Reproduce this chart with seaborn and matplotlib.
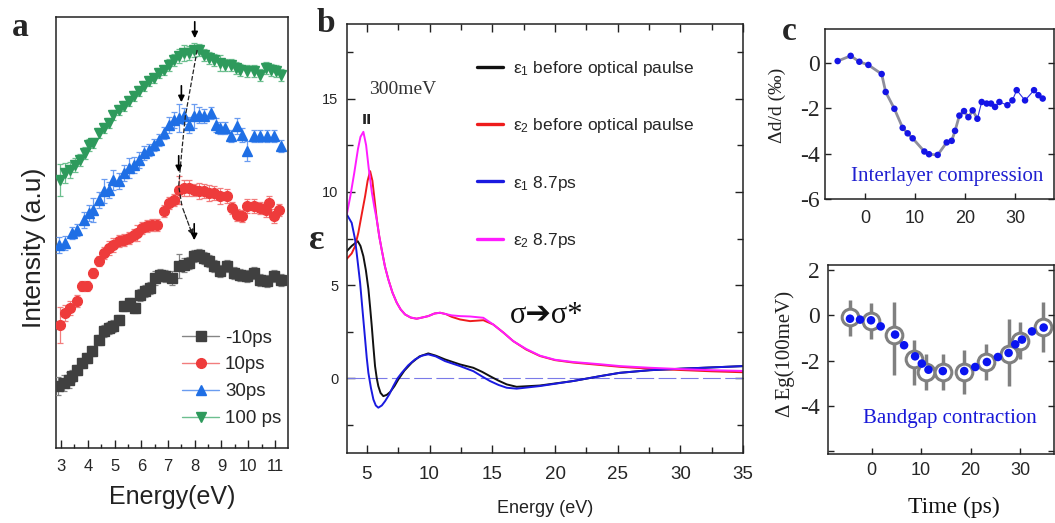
import matplotlib
matplotlib.use("Agg")
import matplotlib.pyplot as plt
import seaborn as sns
from matplotlib import font_manager
from matplotlib.lines import Line2D
from matplotlib.ticker import MultipleLocator

# ---- panel a: spectra at four delays (a.u., curves stacked) ----
a_labels = ["-10ps", "10ps", "30ps", "100 ps"]

a_E_m10 = [2.9, 3.09, 3.28, 3.4, 3.59, 3.78, 3.96, 4.15, 4.4, 4.59, 4.78, 4.96, 5.15, 5.34, 5.59, 5.78,
           5.96, 6.15, 6.34, 6.53, 6.71, 6.9, 7.15, 7.4, 7.59, 7.78, 7.96, 8.15, 8.34, 8.53, 8.71, 8.96,
           9.21, 9.46, 9.71, 9.96, 10.21, 10.46, 10.71, 10.96, 11.21]
a_I_m10 = [62, 65, 68, 72, 78, 85, 90, 97, 108, 117, 120, 122, 128, 142, 145, 140, 153, 157, 160, 170,
           173, 172, 170, 182, 183, 185, 192, 193, 190, 187, 182, 177, 182, 175, 173, 172, 175, 168, 167,
           172, 168]
a_err_m10 = [9, 8, 8, 6, 5, 5, 5, 5, 5, 6, 6, 6, 5, 5, 5, 5, 6, 6, 6, 7, 6, 6, 7, 12, 7, 6, 6, 6, 6, 6,
             6, 6, 6, 6, 6, 6, 6, 6, 6, 6, 6]

a_E_10 = [2.96, 3.15, 3.34, 3.59, 3.78, 3.96, 4.21, 4.4, 4.59, 4.78, 4.96, 5.15, 5.34, 5.53, 5.71, 5.84,
          6.03, 6.21, 6.4, 6.59, 6.84, 7.03, 7.21, 7.4, 7.59, 7.78, 7.96, 8.15, 8.34, 8.53, 8.71, 8.96,
          9.21, 9.4, 9.59, 9.78, 9.96, 10.21, 10.46, 10.65, 10.78, 10.96, 11.15]
a_I_10 = [123, 135, 140, 147, 162, 162, 175, 187, 195, 200, 203, 207, 208, 210, 213, 215, 220, 222, 223,
          223, 237, 245, 248, 258, 260, 260, 258, 257, 257, 255, 255, 252, 252, 240, 233, 232, 242, 242,
          240, 238, 245, 232, 238]
a_err_10 = [18, 8, 7, 6, 5, 5, 5, 5, 6, 7, 7, 6, 6, 6, 6, 8, 6, 6, 6, 6, 6, 6, 6, 14, 8, 8, 6, 8, 7, 8,
            7, 8, 7, 6, 6, 6, 7, 7, 6, 7, 7, 7, 6]

a_E_30 = [2.94, 3.15, 3.4, 3.59, 3.84, 4.03, 4.21, 4.4, 4.59, 4.78, 4.96, 5.15, 5.34, 5.53, 5.71, 5.9,
          6.09, 6.28, 6.46, 6.65, 6.84, 7.03, 7.21, 7.4, 7.59, 7.78, 7.96, 8.15, 8.34, 8.59, 8.78, 8.96,
          9.15, 9.34, 9.59, 9.78, 9.96, 10.21, 10.46, 10.71, 10.96, 11.21]
a_I_30 = [203, 205, 215, 218, 228, 235, 238, 248, 257, 258, 268, 267, 275, 280, 283, 288, 295, 298, 303,
          308, 315, 323, 328, 330, 332, 323, 332, 333, 332, 335, 323, 320, 320, 312, 322, 313, 297, 312,
          312, 312, 312, 302]
a_err_30 = [8, 7, 6, 6, 8, 8, 12, 8, 12, 8, 10, 8, 8, 10, 8, 8, 7, 6, 6, 6, 6, 8, 8, 14, 8, 8, 12, 8, 7,
            6, 7, 6, 6, 6, 8, 7, 10, 6, 6, 6, 6, 6]

a_E_100 = [2.96, 3.15, 3.34, 3.53, 3.71, 3.9, 4.03, 4.21, 4.4, 4.59, 4.78, 4.96, 5.15, 5.34, 5.53, 5.71,
           5.9, 6.09, 6.28, 6.46, 6.65, 6.84, 7.03, 7.21, 7.4, 7.59, 7.78, 7.96, 8.15, 8.34, 8.53, 8.71,
           8.96, 9.15, 9.34, 9.53, 9.71, 9.96, 10.21, 10.46, 10.65, 10.84, 11.03, 11.21]
a_I_100 = [268, 275, 278, 283, 288, 295, 303, 305, 315, 320, 325, 333, 338, 342, 347, 352, 357, 362, 367,
           370, 375, 378, 383, 388, 392, 395, 395, 398, 398, 393, 390, 388, 385, 383, 383, 380, 378, 377,
           377, 373, 380, 378, 377, 373]
a_err_100 = [16, 10, 8, 7, 6, 6, 6, 5, 5, 5, 5, 5, 5, 5, 5, 5, 5, 5, 5, 5, 5, 5, 6, 6, 7, 8, 7, 7, 6, 6,
             6, 6, 8, 6, 6, 6, 6, 6, 6, 6, 6, 6, 6, 6]

# peak arrows (energy, arrow tip) and the dashed guide through the peaks
a_arrow_E = [7.98, 7.4, 7.5, 8.0]
a_arrow_tip = [205, 273, 343, 407]
a_shift_E = [8.09, 7.65, 7.52, 7.4, 7.52, 7.96]
a_shift_I = [398, 332, 298, 262, 242, 210]

# ---- panel b: dielectric function ----
b_e1_before_E = [3.41, 3.8, 4.28, 4.5, 4.73, 4.93, 5.13, 5.27, 5.4, 5.53, 5.66, 5.8, 5.92, 6.1, 6.32, 6.6,
                 6.86, 7.2, 7.52, 8.0, 8.58, 9.2, 9.9, 10.5, 11.23, 12.43, 13.49, 14.2, 14.82, 15.5, 16.15,
                 16.94, 18.8, 21.45, 23.58, 25.17, 27.56, 30.0, 35.0]
b_e1_before = [6.82, 7.1, 7.36, 7.1, 6.55, 5.8, 4.8, 3.8, 2.8, 1.7, 0.66, 0.0, -0.41, -0.78, -0.95, -0.88,
               -0.73, -0.42, -0.05, 0.42, 0.84, 1.18, 1.34, 1.22, 1.02, 0.75, 0.57, 0.35, 0.12, -0.12, -0.32,
               -0.45, -0.38, -0.14, 0.12, 0.3, 0.44, 0.52, 0.66]

b_e2_before_E = [3.41, 3.8, 4.07, 4.33, 4.6, 4.87, 5.07, 5.27, 5.45, 5.62, 5.8, 6.0, 6.19, 6.45, 6.72, 7.05,
                 7.39, 7.7, 8.05, 8.5, 8.98, 9.45, 9.9, 10.4, 10.84, 11.3, 11.77, 12.43, 13.23, 14.29, 15.08,
                 15.9, 16.67, 17.7, 18.8, 20.0, 21.45, 23.6, 25.2, 27.6, 30.0, 32.5, 35.0]
b_e2_before = [6.41, 6.7, 7.09, 7.81, 8.8, 9.77, 10.6, 11.11, 10.6, 9.6, 8.52, 7.6, 6.91, 6.0, 5.31, 4.6,
               4.06, 3.7, 3.43, 3.26, 3.2, 3.27, 3.34, 3.48, 3.52, 3.45, 3.3, 3.16, 3.07, 3.12, 2.89, 2.45,
               2.0, 1.55, 1.2, 0.98, 0.85, 0.72, 0.62, 0.52, 0.45, 0.38, 0.33]

b_e1_87_E = [3.41, 3.8, 4.07, 4.27, 4.47, 4.67, 4.87, 5.0, 5.13, 5.33, 5.53, 5.72, 5.92, 6.2, 6.46, 6.8,
             7.12, 7.45, 7.79, 8.3, 8.85, 9.4, 9.9, 10.5, 11.23, 12.43, 13.49, 14.2, 14.82, 15.5, 16.15,
             16.94, 18.8, 21.45, 23.58, 25.17, 27.56, 30.0, 35.0]
b_e1_87 = [8.79, 8.34, 7.45, 6.3, 5.13, 3.6, 2.09, 1.1, 0.3, -0.5, -1.13, -1.45, -1.57, -1.45, -1.22, -0.85,
           -0.41, 0.0, 0.3, 0.7, 1.02, 1.22, 1.29, 1.18, 0.93, 0.66, 0.39, 0.1, -0.14, -0.35, -0.5, -0.55,
           -0.41, -0.14, 0.12, 0.3, 0.44, 0.52, 0.66]

b_e2_87_E = [3.41, 3.7, 4.0, 4.3, 4.5, 4.73, 4.95, 5.15, 5.4, 5.6, 5.8, 6.0, 6.19, 6.45, 6.72, 7.05, 7.39,
             7.7, 8.05, 8.5, 8.98, 9.45, 9.9, 10.4, 10.84, 11.3, 11.77, 12.43, 13.23, 14.29, 15.08, 15.9,
             16.67, 17.7, 18.8, 20.0, 21.45, 23.6, 25.2, 27.6, 30.0, 32.5, 35.0]
b_e2_87 = [8.79, 9.8, 11.0, 12.3, 12.95, 13.22, 12.5, 11.3, 10.0, 9.2, 8.5, 7.6, 6.9, 6.0, 5.3, 4.6, 4.06,
           3.7, 3.43, 3.27, 3.2, 3.27, 3.34, 3.48, 3.52, 3.45, 3.38, 3.34, 3.32, 3.25, 2.89, 2.45, 2.0,
           1.58, 1.22, 1.0, 0.88, 0.76, 0.66, 0.57, 0.5, 0.44, 0.4]

b_labels = ["ε$_1$ before optical paulse", "ε$_2$ before optical paulse", "ε$_1$ 8.7ps", "ε$_2$ 8.7ps"]

# ---- panel c: interlayer spacing and band gap vs time ----
c_t_d = [-5.47, -2.87, -1.13, 0.67, 3.33, 4.13, 5.87, 7.53, 8.53, 9.53, 11.87, 12.8, 14.53, 16.33, 17.33,
         18.0, 18.87, 19.8, 20.67, 21.53, 22.47, 23.33, 24.33, 25.2, 26.0, 26.87, 28.47, 29.47, 30.33, 32.0,
         33.8, 34.67, 35.53]
c_dd = [0.07, 0.3, 0.04, -0.1, -0.5, -1.29, -2.03, -2.87, -3.11, -3.33, -3.91, -4.03, -4.06, -3.51, -3.44,
        -3.0, -2.33, -2.13, -2.4, -2.1, -2.47, -1.73, -1.8, -1.8, -1.95, -1.73, -1.87, -1.66, -1.21, -1.66,
        -1.21, -1.43, -1.58]

c_t_eg = [-4.39, -2.36, -0.14, 1.82, 4.73, 6.55, 8.78, 10.14, 11.49, 14.39, 18.72, 20.95, 23.31, 25.54,
          27.7, 29.05, 30.41, 32.43, 34.8]
c_eg = [-0.15, -0.19, -0.22, -0.49, -0.85, -1.32, -1.81, -2.13, -2.4, -2.46, -2.46, -2.28, -2.06, -1.84,
        -1.66, -1.28, -1.07, -0.71, -0.54]

c_t_ring = [-4.39, -0.14, 4.53, 8.58, 10.95, 14.39, 18.72, 23.18, 27.7, 30.07, 34.66]
c_eg_ring = [-0.07, -0.25, -0.88, -1.91, -2.49, -2.49, -2.49, -2.06, -1.69, -1.13, -0.51]
c_eg_hi = [0.66, 0.56, 0.59, -1.1, -1.69, -1.69, -1.51, -1.28, -0.15, -0.29, 0.59]
c_eg_lo = [-0.93, -1.03, -2.65, -3.09, -3.28, -3.28, -3.49, -2.84, -3.13, -1.91, -1.62]

# ---- style ----
sns.set_theme(style="ticks")
names = {f.name for f in font_manager.fontManager.ttflist}
NARROW = "Liberation Sans Narrow" if "Liberation Sans Narrow" in names else "Liberation Sans"
SANS = [NARROW, "DejaVu Sans"]
SERIF = ["Liberation Serif", "DejaVu Serif", "DejaVu Sans"]
plt.rcParams["font.family"] = SANS
plt.rcParams["axes.unicode_minus"] = False
plt.rcParams["mathtext.fontset"] = "custom"
plt.rcParams["mathtext.rm"] = NARROW
plt.rcParams["mathtext.it"] = NARROW

fig = plt.figure(figsize=(10.55, 5.23), dpi=100)
ax_a = fig.add_axes([0.0531, 0.1434, 0.2199, 0.8241])
ax_b = fig.add_axes([0.3286, 0.1338, 0.3759, 0.8203])
ax_c1 = fig.add_axes([0.782, 0.6195, 0.2171, 0.325])
ax_c2 = fig.add_axes([0.7848, 0.1319, 0.2143, 0.3614])

for ax in (ax_a, ax_b, ax_c1, ax_c2):
    for sp in ax.spines.values():
        sp.set_visible(True)
        sp.set_linewidth(1.1)
        sp.set_color("#222222")
    ax.grid(False)

# ---- panel a ----
a_series = [
    (a_E_m10, a_I_m10, a_err_m10, "s", 6.5, "#404040", "#858585"),
    (a_E_10, a_I_10, a_err_10, "o", 7.0, "#ee3b3b", "#f27d7d"),
    (a_E_30, a_I_30, a_err_30, "^", 7.5, "#1f6fe5", "#6a9cf0"),
    (a_E_100, a_I_100, a_err_100, "v", 7.5, "#2e9a5c", "#6cbf8f"),
]
handles = []
for E, I, err, mk, ms, col, ecol in a_series:
    ax_a.errorbar(E, I, yerr=err, fmt=mk, ms=ms, color=col, mec=col, ecolor=ecol,
                  elinewidth=0.9, capsize=2.5, capthick=0.9, zorder=3)
    handles.append(Line2D([], [], color=ecol, marker=mk, mfc=col, mec=col, ms=ms, lw=1.0))

for e, tip in zip(a_arrow_E, a_arrow_tip):
    ax_a.annotate("", xy=(e, tip), xytext=(e, tip + 22),
                  arrowprops=dict(arrowstyle="-|>", color="black", lw=1.2, mutation_scale=9), zorder=5)
ax_a.plot(a_shift_E[:-1], a_shift_I[:-1], ls="--", color="#222222", lw=0.9, zorder=4)
ax_a.annotate("", xy=(a_shift_E[-1], a_shift_I[-1]), xytext=(a_shift_E[-2], a_shift_I[-2]),
              arrowprops=dict(arrowstyle="-|>", color="#222222", lw=0.9, ls="--", mutation_scale=8), zorder=4)

ax_a.set_xlim(2.81, 11.49)
ax_a.set_ylim(0, 431)
ax_a.set_yticks([])
ax_a.set_xticks(range(3, 12))
ax_a.set_xticklabels([str(v) for v in range(3, 12)], fontsize=12, family=SANS)
ax_a.xaxis.set_minor_locator(MultipleLocator(0.5))
ax_a.tick_params(axis="x", which="major", direction="in", length=6, width=1.0, pad=8, color="#222222")
ax_a.tick_params(axis="x", which="minor", direction="in", length=3, width=1.0, color="#222222")
ax_a.set_xlabel("Energy(eV)", fontsize=18, family=SANS, color="#222222")
ax_a.xaxis.set_label_coords(0.5, -0.085)
ax_a.set_ylabel("Intensity (a.u)", fontsize=19, family=SANS, color="#222222")
ax_a.yaxis.set_label_coords(-0.045, 0.464)
ax_a.legend(handles, a_labels, loc="upper left", bbox_to_anchor=(0.543, 0.275), frameon=False,
            prop={"family": SANS, "size": 13.5}, handlelength=2.0, handletextpad=0.3,
            labelspacing=0.52, borderpad=0, borderaxespad=0)

# ---- panel b ----
b_curves = [
    (b_e1_before_E, b_e1_before, "#111111"),
    (b_e2_before_E, b_e2_before, "#ee1c1c"),
    (b_e1_87_E, b_e1_87, "#1a1ae0"),
    (b_e2_87_E, b_e2_87, "#ff1cff"),
]
ax_b.axhline(0, color="#7a7ae8", lw=0.8, dashes=(16, 4), zorder=1)
for (E, eps, col), lbl in zip(b_curves, b_labels):
    sns.lineplot(x=E, y=eps, color=col, lw=1.4, sort=False, ax=ax_b, label=lbl)

ax_b.set_xlim(3.4, 35)
ax_b.set_ylim(-4, 19)
ax_b.set_xticks([5, 10, 15, 20, 25, 30, 35])
ax_b.set_xticklabels(["5", "10", "15", "20", "25", "30", "35"], fontsize=13.5, family=SANS)
ax_b.set_yticks([0, 5, 10, 15])
ax_b.set_yticklabels(["0", "5", "10", "15"], fontsize=10.5, family=SANS)
ax_b.xaxis.set_minor_locator(MultipleLocator(2.5))
ax_b.yaxis.set_minor_locator(MultipleLocator(2.5))
ax_b.tick_params(which="both", direction="in", top=True, right=True, color="#222222", width=1.0)
ax_b.tick_params(which="major", length=6)
ax_b.tick_params(which="minor", length=4)
ax_b.tick_params(axis="x", pad=9)
ax_b.tick_params(axis="y", pad=6)
ax_b.set_xlabel("Energy (eV)", fontsize=13, family=SANS, color="#222222")
ax_b.xaxis.set_label_coords(0.5, -0.11)
ax_b.set_ylabel("")
leg = ax_b.legend(loc="upper left", bbox_to_anchor=(0.329, 0.918), frameon=False,
                  prop={"family": SANS, "size": 12.5}, handlelength=1.5, handletextpad=0.55,
                  labelspacing=2.2, borderpad=0, borderaxespad=0)
for ln in leg.get_lines():
    ln.set_linewidth(2.4)
ax_b.text(7.9, 15.5, "300meV", fontsize=14, family=SERIF, ha="center", va="center", color="#333333")
ax_b.text(5.0, 13.85, "II", fontsize=10, family=["DejaVu Sans"], weight="bold", ha="center",
          va="center", color="#222222")
ax_b.text(19.3, 3.35, "σ➔σ*", fontsize=22, family=["Liberation Serif", "DejaVu Sans"], ha="center",
          va="center", color="#111111")
fig.text(0.3005, 0.541, "ε", fontsize=26, family=SERIF, weight="bold", ha="center", va="center")

# ---- panel c top ----
sns.lineplot(x=c_t_d[:21], y=c_dd[:21], color="#8e8e9c", lw=2.0, sort=False, ax=ax_c1)
sns.lineplot(x=c_t_d[20:], y=c_dd[20:], color="#3030e0", lw=0.8, sort=False, ax=ax_c1)
sns.scatterplot(x=c_t_d, y=c_dd, color="#1414e6", s=22, edgecolor="none", ax=ax_c1, zorder=3)
ax_c1.set_xlim(-8, 37.8)
ax_c1.set_ylim(-6, 1.48)
ax_c1.set_xticks([0, 10, 20, 30])
ax_c1.set_xticklabels(["0", "10", "20", "30"], fontsize=13, family=SANS)
ax_c1.set_yticks([0, -2, -4, -6])
ax_c1.set_yticklabels(["0", "-2", "-4", "-6"], fontsize=17, family=SERIF)
ax_c1.tick_params(which="both", direction="in", right=True, length=4, width=1.0, color="#222222")
ax_c1.tick_params(axis="x", pad=8)
ax_c1.tick_params(axis="y", pad=4)
ax_c1.set_ylabel("Δd/d (‰)", fontsize=14, family=SERIF, color="#222222")
ax_c1.yaxis.set_label_coords(-0.171, 0.553)
ax_c1.text(0.535, 0.13, "Interlayer compression", transform=ax_c1.transAxes, fontsize=15,
           family=SERIF, color="#2020d0", ha="center", va="center")

# ---- panel c bottom ----
yerr = [[v - lo for v, lo in zip(c_eg_ring, c_eg_lo)], [hi - v for v, hi in zip(c_eg_ring, c_eg_hi)]]
ax_c2.errorbar(c_t_ring, c_eg_ring, yerr=yerr, fmt="o", ms=12, mfc="white", mec="#808080", mew=2.2,
               ecolor="#808080", elinewidth=2.5, capsize=0, zorder=2)
sns.scatterplot(x=c_t_eg, y=c_eg, color="#0a14f0", s=38, edgecolor="none", ax=ax_c2, zorder=4)
ax_c2.set_xlim(-8.85, 36.9)
ax_c2.set_ylim(-6.12, 2.22)
ax_c2.set_xticks([0, 10, 20, 30])
ax_c2.set_xticklabels(["0", "10", "20", "30"], fontsize=13, family=SANS)
ax_c2.set_yticks([-6, -4, -2, 0, 2])
ax_c2.set_yticklabels(["", "-4", "-2", "0", "2"], fontsize=17, family=SERIF)
ax_c2.tick_params(which="both", direction="in", right=True, length=4, width=1.0, color="#222222")
ax_c2.tick_params(axis="x", pad=6)
ax_c2.tick_params(axis="y", pad=6)
ax_c2.set_xlabel("Time (ps)", fontsize=17, family=SERIF, color="#111111")
ax_c2.xaxis.set_label_coords(0.556, -0.225)
ax_c2.set_ylabel("Δ Eg(100meV)", fontsize=15, family=SERIF, color="#222222")
ax_c2.yaxis.set_label_coords(-0.147, 0.53)
ax_c2.text(0.54, 0.19, "Bandgap contraction", transform=ax_c2.transAxes, fontsize=15,
           family=SERIF, color="#1818d8", ha="center", va="center")

# panel letters
for x, y, s in [(0.019, 0.948, "a"), (0.309, 0.956, "b"), (0.748, 0.939, "c")]:
    fig.text(x, y, s, fontsize=24, family=SERIF, weight="bold", ha="center", va="center")

fig.savefig("out.png", dpi=100)
